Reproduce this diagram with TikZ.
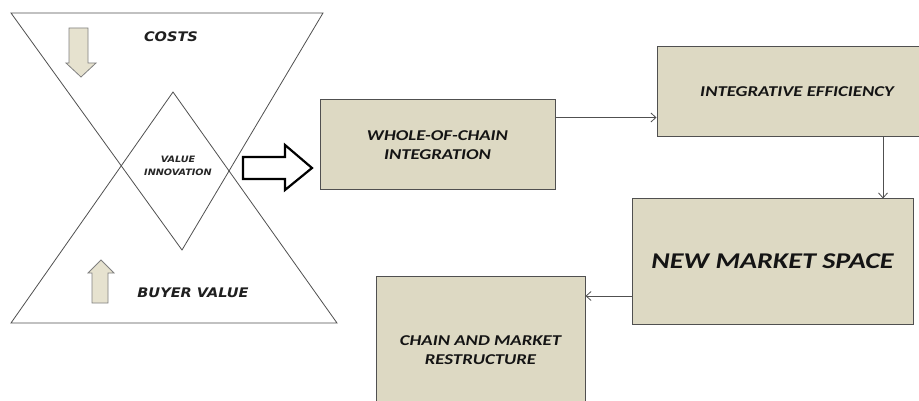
\documentclass[tikz,border=0pt]{standalone}
\usepackage{fontspec}
\usetikzlibrary{arrows.meta,calc}
\newfontfamily\boxfont[FakeStretch=1.25]{Carlito}
\newfontfamily\hgfont[FakeStretch=1.1]{DejaVu Sans}
\definecolor{tan}{HTML}{DDD9C3}
\definecolor{tanlight}{HTML}{E6E2CF}
\definecolor{edge}{HTML}{505050}
\tikzset{
  stepbox/.style={draw=edge, line width=1pt, fill=tan, inner sep=2pt, align=center,
    font=\boxfont\bfseries\itshape\fontsize{15}{18.5}\selectfont, text=black!92},
  conn/.style={draw=edge, line width=0.8pt, -{Straight Barb[length=5pt,width=9pt]}},
  hgline/.style={draw=edge, line width=0.8pt},
  hglabel/.style={font=\hgfont\bfseries\itshape\fontsize{13.2}{15}\selectfont, text=black!88},
  blockarrow/.style={draw=gray, line width=0.8pt, fill=tanlight},
}
\begin{document}
\begin{tikzpicture}[x=1pt,y=-1pt]
\clip (0,0) rectangle (919,401);
\fill[white] (0,0) rectangle (919,401);
% hourglass
\draw[hgline] (11,13) -- (323,13) -- (182,250) -- cycle;
\draw[hgline] (11,323) -- (337,323) -- (173,92) -- cycle;
\node[hglabel] (costs) at (171,37) {COSTS};
\node[hglabel] (buyer) at (193,293) {BUYER VALUE};
\node[font=\hgfont\bfseries\itshape\fontsize{8.8}{13}\selectfont, align=center, text=black!85] (vi) at (178,166) {VALUE\\INNOVATION};
% small block arrows
\draw[blockarrow] (69,28) -- (88,28) -- (88,63) -- (96,63) -- (81,77) -- (66,63) -- (69,63) -- cycle;
\draw[blockarrow] (92,303) -- (108,303) -- (108,273) -- (114,273) -- (101,260) -- (88,273) -- (92,273) -- cycle;
% big hollow arrow
\draw[line width=2.2pt, fill=white, line join=miter] (243,157) -- (285,157) -- (285,145) -- (312,168) -- (285,190) -- (285,179) -- (243,179) -- cycle;
% boxes
\node[stepbox, minimum width=235pt, minimum height=90pt] (whole) at (437.5,145) {WHOLE-OF-CHAIN\\INTEGRATION};
\node[stepbox, minimum width=280pt, minimum height=90pt] (integ) at (797,92) {INTEGRATIVE EFFICIENCY};
\node[stepbox, minimum width=281pt, minimum height=125pt, font=\boxfont\bfseries\itshape\fontsize{22.5}{26}\selectfont] (nms) at (772.5,261.5) {NEW MARKET SPACE};
\node[stepbox, minimum width=209pt, minimum height=148pt] (chain) at (480.5,350) {CHAIN AND MARKET\\RESTRUCTURE};
% connectors
\draw[conn] ([yshift=-18pt]whole.north east) -- ([yshift=-18pt]whole.north east -| integ.west);
\draw[conn] ([xshift=86pt]integ.south) -- ([xshift=86pt]integ.south |- nms.north);
\draw[conn] ([yshift=-34.5pt]nms.west) -- ([yshift=-34.5pt]nms.west -| chain.east);
\end{tikzpicture}
\end{document}
